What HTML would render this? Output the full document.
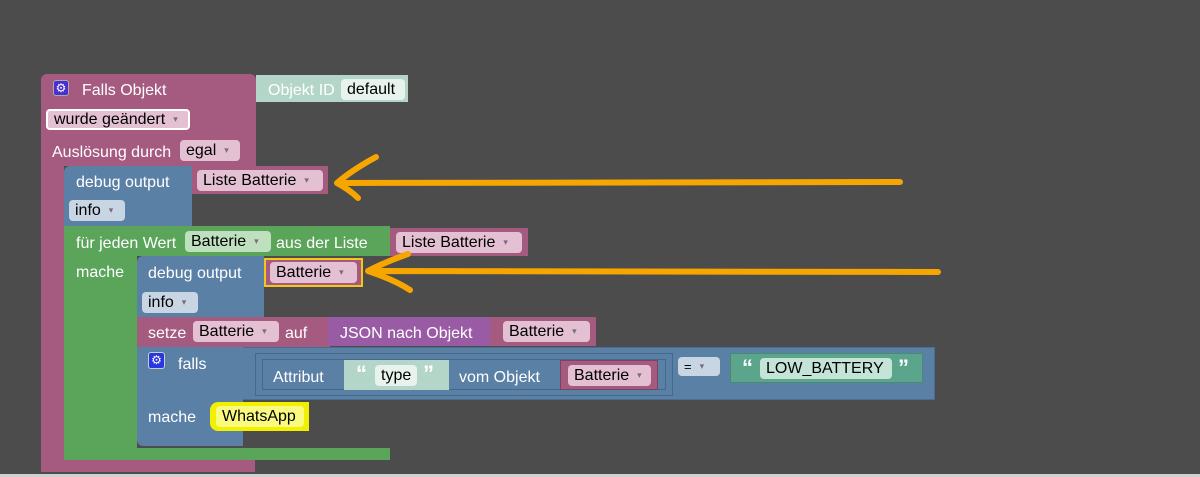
<!DOCTYPE html>
<html><head><meta charset="utf-8"><style>
body{margin:0;width:1200px;height:477px;background:#4c4c4c;position:relative;overflow:hidden;font-family:"Liberation Sans",sans-serif;font-size:16px;color:#fff}
.b{position:absolute;box-sizing:border-box}
.t{position:absolute;white-space:nowrap;line-height:18px;margin-top:2px}
.f{position:absolute;box-sizing:border-box;border-radius:4px;color:#000;padding-left:6px;line-height:21px;white-space:nowrap}
.dd::after{content:"▾";font-size:9px;margin-left:8px;vertical-align:2px;color:#7a6a80}
</style></head><body>
<div class="b" style="left:0;top:474px;width:1200px;height:3px;background:#d0d0d0"></div>
<div class="b" style="left:41px;top:74px;width:215px;height:92px;background:#a55b80;border-radius:6px 6px 0 0"></div>
<div class="b" style="left:41px;top:160px;width:23px;height:312px;background:#a55b80"></div>
<div class="b" style="left:41px;top:460px;width:214px;height:12px;background:#a55b80;border-radius:0 0 0 6px"></div>
<div class="b" style="left:53px;top:80px;width:16px;height:16px;background:#4a2fd0;border-radius:3px;border:1px solid #aaa;font-size:12px;line-height:14px;text-align:center">⚙</div>
<div class="t" style="left:82px;top:80px">Falls Objekt</div>
<div class="b" style="left:256px;top:75px;width:152px;height:27px;background:#b4d6c8"></div>
<div class="t" style="left:268px;top:80px">Objekt ID</div>
<div class="f" style="left:341px;top:79px;width:64px;background:#e8f3ee">default</div>
<div class="f dd" style="left:46px;top:109px;width:144px;background:#e4c0d3;border:2px solid #fff;line-height:17px">wurde geändert</div>
<div class="t" style="left:52px;top:142px">Auslösung durch</div>
<div class="f dd" style="left:180px;top:140px;width:60px;background:#e4c0d3">egal</div>
<div class="b" style="left:64px;top:166px;width:128px;height:60px;background:#5b80a5;border-radius:6px 0 0 0"></div>
<div class="t" style="left:76px;top:172px">debug output</div>
<div class="b" style="left:192px;top:166px;width:136px;height:28px;background:#a55b80"></div>
<div class="f dd" style="left:197px;top:170px;width:126px;background:#e4c0d3">Liste Batterie</div>
<div class="f dd" style="left:69px;top:200px;width:56px;background:#c8d6e4">info</div>
<div class="b" style="left:64px;top:226px;width:326px;height:30px;background:#5ba55b"></div>
<div class="b" style="left:64px;top:226px;width:73px;height:234px;background:#5ba55b"></div>
<div class="b" style="left:64px;top:448px;width:326px;height:12px;background:#5ba55b"></div>
<div class="t" style="left:76px;top:233px">für jeden Wert</div>
<div class="f dd" style="left:185px;top:231px;width:86px;background:#bfe0bf">Batterie</div>
<div class="t" style="left:276px;top:233px">aus der Liste</div>
<div class="b" style="left:390px;top:228px;width:138px;height:28px;background:#a55b80"></div>
<div class="f dd" style="left:396px;top:232px;width:126px;background:#e4c0d3">Liste Batterie</div>
<div class="t" style="left:76px;top:262px">mache</div>
<div class="b" style="left:137px;top:256px;width:127px;height:61px;background:#5b80a5;border-radius:6px 0 0 0"></div>
<div class="t" style="left:148px;top:263px">debug output</div>
<div class="b" style="left:264px;top:258px;width:99px;height:29px;background:#a55b80;border:2px solid #f5c518"></div>
<div class="f dd" style="left:270px;top:262px;width:87px;background:#e4c0d3">Batterie</div>
<div class="f dd" style="left:142px;top:292px;width:56px;background:#c8d6e4">info</div>
<div class="b" style="left:137px;top:317px;width:193px;height:30px;background:#a55b80"></div>
<div class="t" style="left:148px;top:323px">setze</div>
<div class="f dd" style="left:193px;top:321px;width:86px;background:#e4c0d3">Batterie</div>
<div class="t" style="left:285px;top:323px">auf</div>
<div class="b" style="left:328px;top:317px;width:162px;height:29px;background:#9a5ba5"></div>
<div class="t" style="left:340px;top:323px">JSON nach Objekt</div>
<div class="b" style="left:490px;top:317px;width:106px;height:29px;background:#a55b80"></div>
<div class="f dd" style="left:503px;top:321px;width:87px;background:#e4c0d3">Batterie</div>
<div class="b" style="left:137px;top:347px;width:798px;height:53px;background:#5b80a5;border:1px solid #4a6d90"></div>
<div class="b" style="left:137px;top:347px;width:106px;height:99px;background:#5b80a5;border-radius:0 0 0 6px"></div>
<div class="b" style="left:148px;top:352px;width:17px;height:17px;background:#2838e0;border-radius:3px;border:1px solid #ccc;font-size:12px;line-height:15px;text-align:center">⚙</div>
<div class="t" style="left:178px;top:354px">falls</div>
<div class="t" style="left:148px;top:407px">mache</div>
<div class="b" style="left:255px;top:353px;width:418px;height:43px;background:#5b80a5;border:1px solid #44698c"></div>
<div class="b" style="left:262px;top:359px;width:404px;height:31px;border:1px solid #44698c"></div>
<div class="t" style="left:273px;top:367px">Attribut</div>
<div class="b" style="left:344px;top:360px;width:105px;height:30px;background:#b4d6c8"></div>
<div class="t" style="left:356px;top:363px;font-size:22px;font-weight:bold">“</div>
<div class="f" style="left:375px;top:365px;width:42px;background:#e8f3ee">type</div>
<div class="t" style="left:423px;top:363px;font-size:22px;font-weight:bold">”</div>
<div class="t" style="left:459px;top:367px">vom Objekt</div>
<div class="b" style="left:560px;top:360px;width:98px;height:30px;background:#a55b80;border:1px solid #7d4462"></div>
<div class="f dd" style="left:568px;top:365px;width:83px;background:#e4c0d3">Batterie</div>
<div class="f dd" style="left:678px;top:357px;width:42px;height:19px;line-height:19px;background:#c8d6e4;font-size:13px">=</div>
<div class="b" style="left:730px;top:353px;width:193px;height:30px;background:#5ba58c;border:1px solid #4a8a74"></div>
<div class="t" style="left:742px;top:357px;font-size:22px;font-weight:bold">“</div>
<div class="f" style="left:760px;top:358px;width:132px;background:#c4e4d8">LOW_BATTERY</div>
<div class="t" style="left:898px;top:357px;font-size:22px;font-weight:bold">”</div>
<div class="b" style="left:210px;top:402px;width:99px;height:29px;background:#f0f000;border-radius:8px 0 0 8px"></div>
<div class="f" style="left:216px;top:406px;width:88px;background:#fafa80">WhatsApp</div>
<svg class="b" style="left:0;top:0" width="1200" height="477">
<g stroke="#f7a600" stroke-width="6" fill="none" stroke-linecap="round" stroke-linejoin="round">
<path d="M900 182 L337 183 M376 157 Q352 170 337 183 Q350 190 358 198"/>
<path d="M938 272 L368 271 M408 254 Q385 262 368 271 Q395 280 410 290"/>
</g></svg>
</body></html>
